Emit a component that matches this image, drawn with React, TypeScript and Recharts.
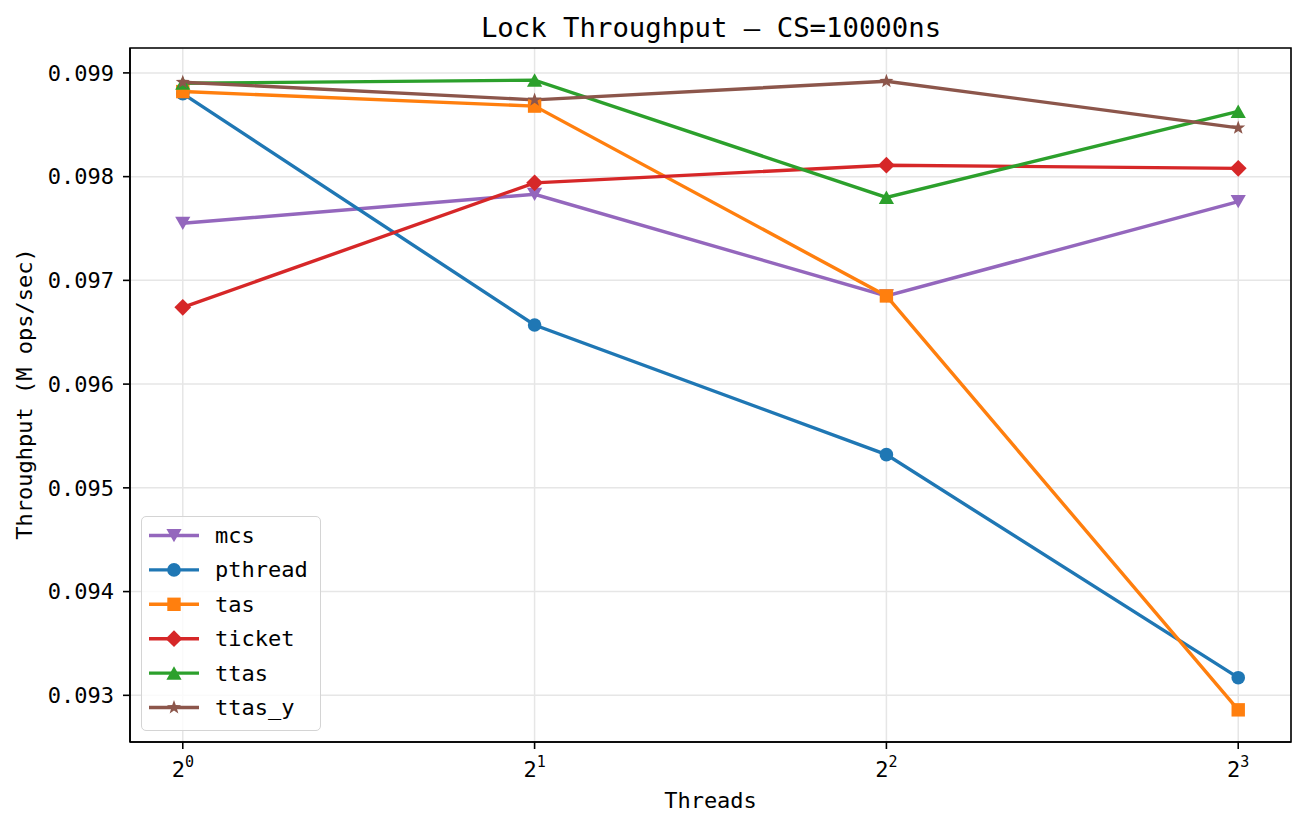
import React from "react";
import { CartesianGrid, Line, LineChart, ReferenceArea, XAxis, YAxis } from "recharts";

const THREADS = [1, 2, 4, 8];
const MCS = [0.09755, 0.09783, 0.09685, 0.09776];
const PTHREAD = [0.0988, 0.09657, 0.09532, 0.09317];
const TAS = [0.09882, 0.09868, 0.09685, 0.09286];
const TICKET = [0.09674, 0.09794, 0.09811, 0.09808];
const TTAS = [0.0989, 0.09893, 0.0978, 0.09863];
const TTAS_Y = [0.09891, 0.09874, 0.09892, 0.09847];
const Y_TICKS = [0.093, 0.094, 0.095, 0.096, 0.097, 0.098, 0.099];

const W = 1307;
const H = 828;
const FONT = "'DejaVu Sans Mono', monospace";

// log2 axis padded by 0.15 decades of 2 on each side
const X_MIN = Math.pow(2, -0.15);
const X_MAX = Math.pow(2, 3.15);
const Y_MIN = 0.09255;
const Y_MAX = 0.09924;

type Shape = "tri-down" | "circle" | "square" | "diamond" | "tri-up" | "star";

const SERIES: { key: string; color: string; shape: Shape; values: number[] }[] = [
  { key: "mcs", color: "#9467bd", shape: "tri-down", values: MCS },
  { key: "pthread", color: "#1f77b4", shape: "circle", values: PTHREAD },
  { key: "tas", color: "#ff7f0e", shape: "square", values: TAS },
  { key: "ticket", color: "#d62728", shape: "diamond", values: TICKET },
  { key: "ttas", color: "#2ca02c", shape: "tri-up", values: TTAS },
  { key: "ttas_y", color: "#8c564b", shape: "star", values: TTAS_Y },
];

const rows = THREADS.map((t, i) => {
  const row: Record<string, number> = { threads: t };
  SERIES.forEach((s) => (row[s.key] = s.values[i]));
  return row;
});

function starPoints(cx: number, cy: number, outer: number, inner: number) {
  const pts: string[] = [];
  for (let k = 0; k < 10; k++) {
    const r = k % 2 === 0 ? outer : inner;
    const a = -Math.PI / 2 + (k * Math.PI) / 5;
    pts.push(`${cx + r * Math.cos(a)},${cy + r * Math.sin(a)}`);
  }
  return pts.join(" ");
}

function Marker({ shape, cx, cy, color }: { shape: Shape; cx: number; cy: number; color: string }) {
  switch (shape) {
    case "circle":
      return <circle cx={cx} cy={cy} r={6.8} fill={color} />;
    case "square":
      return <rect x={cx - 6.7} y={cy - 6.7} width={13.4} height={13.4} fill={color} />;
    case "diamond":
      return <polygon points={`${cx},${cy - 8.4} ${cx + 8.4},${cy} ${cx},${cy + 8.4} ${cx - 8.4},${cy}`} fill={color} />;
    case "tri-up":
      return <polygon points={`${cx},${cy - 6.8} ${cx + 7.6},${cy + 6.6} ${cx - 7.6},${cy + 6.6}`} fill={color} />;
    case "tri-down":
      return <polygon points={`${cx},${cy + 6.8} ${cx + 7.6},${cy - 6.6} ${cx - 7.6},${cy - 6.6}`} fill={color} />;
    case "star":
      return <polygon points={starPoints(cx, cy, 7.4, 3)} fill={color} />;
  }
}

function PowerTick(props: any) {
  const { x, y, payload } = props;
  const exp = Math.round(Math.log2(payload.value));
  return (
    <text x={x} y={y + 27.5} textAnchor="middle" fontFamily={FONT} fontSize={22} fill="#000">
      <tspan>2</tspan>
      <tspan dy={-10} fontSize={15}>
        {exp}
      </tspan>
    </text>
  );
}

function LegendBox() {
  return (
    <div
      style={{
        position: "absolute",
        left: 141,
        top: 516,
        width: 178,
        height: 213,
        border: "1.5px solid #d4d4d4",
        borderRadius: 5,
        background: "rgba(255,255,255,0.8)",
      }}
    >
      <svg width={178} height={213}>
        {SERIES.map((s, i) => {
          const cy = 18.5 + i * 34.4;
          return (
            <g key={s.key}>
              <line x1={7} x2={57} y1={cy} y2={cy} stroke={s.color} strokeWidth={3.4} />
              <Marker shape={s.shape} cx={32} cy={cy} color={s.color} />
              <text x={73} y={cy} dominantBaseline="central" fontFamily={FONT} fontSize={22} fill="#000">
                {s.key}
              </text>
            </g>
          );
        })}
      </svg>
    </div>
  );
}

export default function App() {
  return (
    <div style={{ position: "absolute", left: 0, top: 0, width: W, height: H, background: "#fff" }}>
      <LineChart width={W} height={H} data={rows} margin={{ top: 48, right: 16, bottom: 26, left: 50 }}>
        <CartesianGrid stroke="#e6e6e6" strokeWidth={1.5} />
        <XAxis
          dataKey="threads"
          type="number"
          scale="log"
          domain={[X_MIN, X_MAX]}
          ticks={THREADS}
          allowDataOverflow
          height={60}
          tickSize={7}
          tickMargin={0}
          tick={<PowerTick />}
          tickLine={{ stroke: "#000", strokeWidth: 1.6 }}
          axisLine={{ stroke: "#000", strokeWidth: 1.6 }}
        />
        <YAxis
          type="number"
          domain={[Y_MIN, Y_MAX]}
          ticks={Y_TICKS}
          allowDataOverflow
          width={80}
          tickSize={7}
          tickMargin={9}
          tickFormatter={(v: number) => v.toFixed(3)}
          tick={{ fontFamily: FONT, fontSize: 22, fill: "#000" }}
          tickLine={{ stroke: "#000", strokeWidth: 1.6 }}
          axisLine={{ stroke: "#000", strokeWidth: 1.6 }}
        />
        <ReferenceArea x1={X_MIN} x2={X_MAX} y1={Y_MIN} y2={Y_MAX} fill="none" stroke="#000" strokeWidth={1.6} />
        {SERIES.map((s) => (
          <Line
            key={s.key}
            dataKey={s.key}
            type="linear"
            stroke={s.color}
            strokeWidth={3.4}
            isAnimationActive={false}
            activeDot={false}
            dot={(p: any) => <Marker key={`${s.key}-${p.index}`} shape={s.shape} cx={p.cx} cy={p.cy} color={s.color} />}
          />
        ))}
      </LineChart>
      <svg width={W} height={H} style={{ position: "absolute", left: 0, top: 0, pointerEvents: "none" }}>
        <text x={711} y={36.5} textAnchor="middle" fontFamily={FONT} fontSize={27.3} fill="#000">
          Lock Throughput — CS=10000ns
        </text>
        <text x={710.5} y={808} textAnchor="middle" fontFamily={FONT} fontSize={22} fill="#000">
          Threads
        </text>
        <text transform="translate(32,394) rotate(-90)" textAnchor="middle" fontFamily={FONT} fontSize={22} fill="#000">
          Throughput (M ops/sec)
        </text>
      </svg>
      <LegendBox />
    </div>
  );
}
